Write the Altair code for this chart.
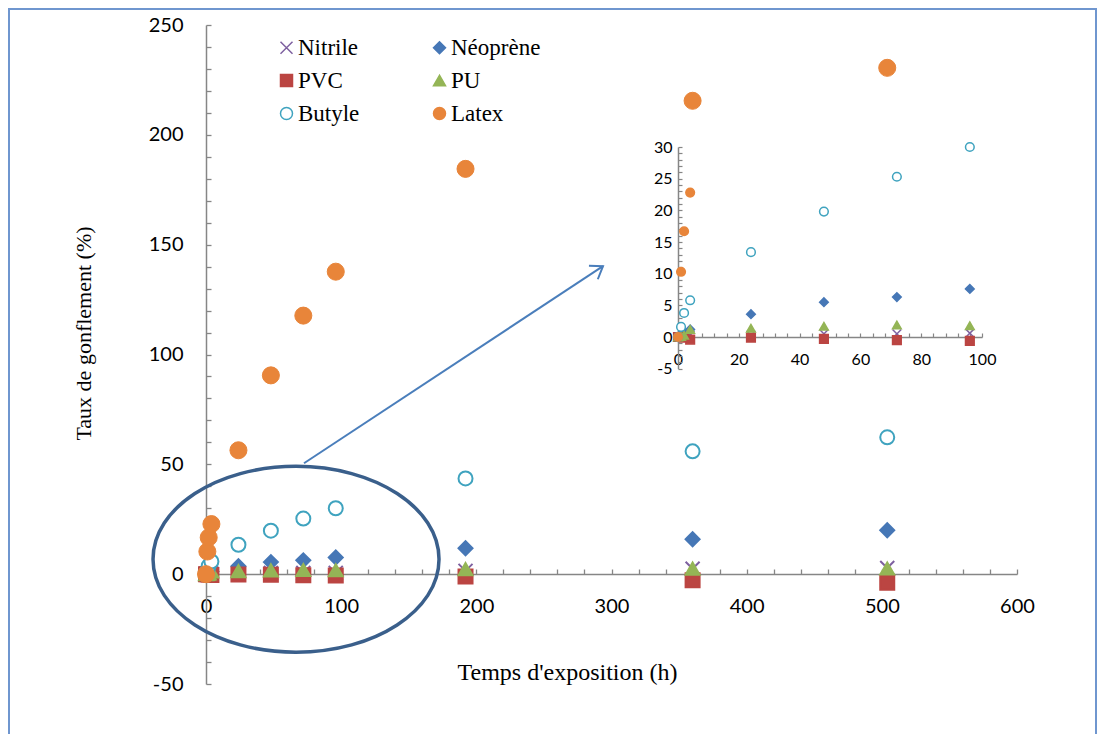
import altair as alt
import pandas as pd

# ---------------- data ----------------
times = [0, 1, 2, 4, 24, 48, 72, 96, 192, 360, 504]
series = ["Nitrile", "Néoprène", "PVC", "PU", "Butyle", "Latex"]
nitrile = [0, 0.1, 0.2, 0.3, 0.3, 0.5, 0.5, 0.6, 1.5, 2.5, 2.8]
neoprene = [0, 0.4, 0.8, 1.2, 3.6, 5.5, 6.3, 7.6, 11.8, 15.9, 20.0]
pvc = [0, 0, -0.1, -0.4, -0.1, -0.3, -0.5, -0.6, -1.1, -2.8, -3.9]
pu = [0, 0.1, 0.3, 1.2, 1.4, 1.7, 1.9, 1.8, 2.3, 2.5, 2.6]
butyle = [0, 1.6, 3.8, 5.8, 13.4, 19.8, 25.3, 30.0, 43.6, 55.9, 62.3]
latex = [0, 10.3, 16.7, 22.8, 56.4, 90.5, 117.7, 137.7, 184.5, 215.5, 230.5]

main_x_ticks = [0, 100, 200, 300, 400, 500, 600]
main_y_ticks = [-50, 0, 50, 100, 150, 200, 250]
inset_x_ticks = [0, 20, 40, 60, 80, 100]
inset_y_ticks = [-5, 0, 5, 10, 15, 20, 25, 30]

colors = ["#7e60a0", "#4677b6", "#bb4542", "#94b556", "#3fa3bf", "#e8853a"]
fills = ["#7e60a0", "#4677b6", "#bb4542", "#94b556", "white", "#e8853a"]
X_PATH = "M -1 -1 L 1 1 M -1 1 L 1 -1"
shapes = [X_PATH, "diamond", "square", "triangle-up", "circle", "circle"]

rows = []
for name, vals in zip(series, [nitrile, neoprene, pvc, pu, butyle, latex]):
    for t, v in zip(times, vals):
        rows.append({"t": t, "v": v, "serie": name})
df = pd.DataFrame(rows)

# legend fills column by column: order entries so they read row by row
legend_order = [0, 2, 4, 1, 3, 5]
dom = [series[i] for i in legend_order]
dom_shapes = [shapes[i] for i in legend_order]
dom_fills = [fills[i] for i in legend_order]
dom_colors = [colors[i] for i in legend_order]

# annotation anchors (data coordinates of the main chart)
arrow = pd.DataFrame({"x": [72.5], "y": [50.5], "x2": [293.7], "y2": [140.2]})
ellipse = pd.DataFrame({"x": [66.6], "y": [6.8]})

W, H = 811, 659
GRAY = "#868686"
k = 0.5523
b = 0.65
ELLIPSE = (f"M -1 0 C -1 {-k*b} {-k} {-b} 0 {-b} C {k} {-b} 1 {-k*b} 1 0 "
           f"C 1 {k*b} {k} {b} 0 {b} C {-k} {b} -1 {k*b} -1 0 Z")
CHEVRON = "M -0.7 1 L 0 0 L 0.7 1"
HYPHEN = "datum.value < 0 ? '-' + abs(datum.value) : '' + datum.value"

mx = alt.Scale(domain=[0, 600], nice=False, zero=False)
my = alt.Scale(domain=[-50, 250], nice=False, zero=False)
ix = alt.Scale(domain=[0, 100], nice=False, zero=False, range=[472, 776])
iy = alt.Scale(domain=[-5, 30], nice=False, zero=False, range=[343.7, 122])

legend = alt.Legend(
    orient="none", legendX=69, legendY=11, columns=2, columnPadding=68, rowPadding=9,
    labelFont="Liberation Serif", labelFontSize=23, labelColor="black", symbolSize=144,
    symbolStrokeWidth=1.5, labelOffset=0, title=None,
)
shape_enc = alt.Shape("serie:N", scale=alt.Scale(domain=dom, range=dom_shapes), legend=legend, title=None)
fill_enc = alt.Fill("serie:N", scale=alt.Scale(domain=dom, range=dom_fills), legend=legend, title=None)
stroke_enc = alt.Stroke("serie:N", scale=alt.Scale(domain=dom, range=dom_colors), legend=legend, title=None)

lab = dict(labelFont="Lato", labelColor="black", domainColor=GRAY, tickColor=GRAY,
           grid=False, labelFlush=False, labelExpr=HYPHEN)

main_x = alt.X("t:Q", scale=mx, axis=alt.Axis(
    orient="bottom", offset=-110, values=main_x_ticks, ticks=False, labelPadding=22,
    labelFontSize=20, domainWidth=1.5, title="Temps d'exposition (h)",
    titleFont="Liberation Serif", titleFontSize=24, titleFontWeight="normal",
    titleColor="black", titleX=361, titleY=98, titleBaseline="middle", titleAlign="center", **lab))
main_y = alt.Y("v:Q", scale=my, axis=alt.Axis(
    orient="left", values=main_y_ticks, ticks=False, labelPadding=23,
    labelFontSize=20, domainWidth=1.5, title="Taux de gonflement (%)",
    titleFont="Liberation Serif", titleFontSize=22, titleFontWeight="normal",
    titleColor="black", titleX=-123, titleY=308, titleAngle=270,
    titleBaseline="middle", titleAlign="center", **lab))

main = alt.Chart(df).transform_filter("datum.serie != 'Latex'").mark_point(
    filled=True, opacity=1, strokeWidth=2, size=196).encode(
    x=main_x, y=main_y, shape=shape_enc, fill=fill_enc, stroke=stroke_enc,
)

main_latex = alt.Chart(df).transform_filter("datum.serie == 'Latex'").mark_point(
    filled=True, opacity=1, strokeWidth=1, size=290).encode(
    x=alt.X("t:Q", scale=mx, axis=None), y=alt.Y("v:Q", scale=my, axis=None),
    shape=shape_enc, fill=fill_enc, stroke=stroke_enc,
)

arrow_layer = alt.Chart(arrow).mark_rule(color="#4a7ebb", strokeWidth=2).encode(
    x=alt.X("x:Q", scale=mx, axis=alt.Axis(
        orient="top", offset=-549, values=list(range(0, 601, 20)), labels=False,
        domain=False, tickSize=5, tickWidth=1.3, title=None, **lab)),
    y=alt.Y("y:Q", scale=my, axis=alt.Axis(
        orient="right", offset=-W, values=list(range(-50, 251, 10)), labels=False,
        domain=False, tickSize=5, tickWidth=1.3, title=None, **lab)),
    x2="x2:Q", y2="y2:Q",
)

head_layer = alt.Chart(arrow).mark_point(
    shape=CHEVRON, size=529, angle=56.6, filled=False, opacity=1,
    stroke="#4a7ebb", strokeWidth=2).encode(
    x=alt.X("x2:Q", scale=mx, axis=None),
    y=alt.Y("y2:Q", scale=my, axis=None),
)

ellipse_layer = alt.Chart(ellipse).mark_point(
    shape=ELLIPSE, size=286 * 286, filled=False, opacity=1,
    stroke="#3a5f8b", strokeWidth=3.5).encode(
    x=alt.X("x:Q", scale=mx, axis=None),
    y=alt.Y("y:Q", scale=my, axis=None),
)

border = alt.Chart(arrow).mark_rect(fillOpacity=0, stroke="#6f96cf", strokeWidth=2).encode(
    x=alt.value(-197), x2=alt.value(890), y=alt.value(-16), y2=alt.value(760),
)

inset = alt.Chart(df).transform_filter("datum.t <= 96").mark_point(
    filled=True, opacity=1, strokeWidth=1.5, size=75).encode(
    x=alt.X("t:Q", scale=ix, axis=alt.Axis(
        orient="bottom", offset=-347, values=inset_x_ticks, ticks=False, labelPadding=14,
        labelFontSize=16, domainWidth=1.5, title=None, **lab)),
    y=alt.Y("v:Q", scale=iy, axis=alt.Axis(
        orient="left", offset=-472, values=inset_y_ticks, ticks=False, labelPadding=6,
        labelFontSize=16, domainWidth=1.5, title=None, **lab)),
    shape=shape_enc, fill=fill_enc, stroke=stroke_enc,
)

inset_ticks = alt.Chart(df).transform_filter("datum.t <= 96").mark_point(opacity=0).encode(
    x=alt.X("t:Q", scale=ix, axis=alt.Axis(
        orient="top", offset=-312, values=list(range(0, 101, 4)), labels=False,
        domain=False, tickSize=4, tickWidth=1.2, title=None, **lab)),
    y=alt.Y("v:Q", scale=iy, axis=alt.Axis(
        orient="right", offset=-(W - 472), values=list(range(-5, 31, 1)), labels=False,
        domain=False, tickSize=4, tickWidth=1.2, title=None, **lab)),
)

chart = alt.layer(
    border, ellipse_layer, arrow_layer, head_layer, main, main_latex, inset_ticks, inset
).resolve_scale(x="independent", y="independent").properties(
    width=W, height=H,
    autosize=alt.AutoSizeParams(type="none"),
    padding={"left": 198, "top": 17, "right": 81, "bottom": 50},
).configure_view(stroke=None)

chart.save("out.html", embed_options={"renderer": "svg", "actions": False})
